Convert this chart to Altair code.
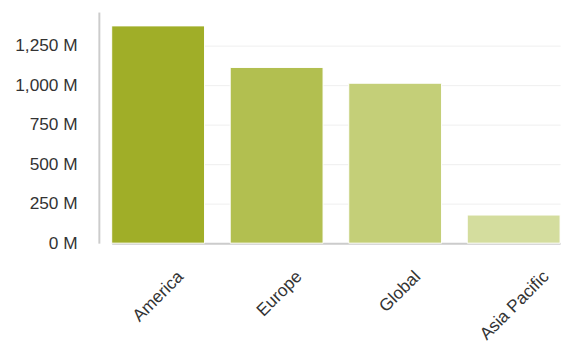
import altair as alt
import pandas as pd

regions = ["America", "Europe", "Global", "Asia Pacific"]
values = [1375, 1112, 1012, 178]
colors = ["#a0ae28", "#b2bf50", "#c4cf78", "#d4dd9e"]
y_ticks = [0, 250, 500, 750, 1000, 1250]

df = pd.DataFrame({"region": regions, "value": values, "color": colors})

FONT = "Liberation Sans"

chart = alt.Chart(df).mark_bar(stroke="white", strokeWidth=1).encode(
    x=alt.X(
        "region:N",
        sort=regions,
        title=None,
        scale=alt.Scale(range=[13, 467], paddingInner=0.2167, paddingOuter=0, round=False),
        axis=alt.Axis(
            labelAngle=315,
            labelAlign="right",
            labelBaseline="middle",
            labelFontSize=17.5,
            labelFont=FONT,
            labelColor="#333333",
            labelPadding=31,
            labelOffset=alt.condition("datum.value == 'Asia Pacific'", alt.value(33), alt.value(23)),
            ticks=False,
            tickSize=0,
            domainColor="#cccccc",
            domainWidth=2,
            grid=False,
        ),
    ),
    y=alt.Y(
        "value:Q",
        title=None,
        scale=alt.Scale(domain=[0, 1462.5], nice=False),
        axis=alt.Axis(
            values=y_ticks,
            labelExpr="format(datum.value, ',') + ' M'",
            labelFontSize=17.5,
            labelFont=FONT,
            labelColor="#333333",
            labelPadding=22,
            ticks=False,
            tickSize=0,
            domainColor="#cccccc",
            domainWidth=2,
            gridColor="#efefef",
            gridWidth=1,
        ),
    ),
    color=alt.Color("color:N", scale=None, legend=None),
).properties(
    width=474,
    height=234,
    autosize=alt.AutoSizeParams(type="none"),
    padding={"left": 92, "top": 2, "right": 0, "bottom": 100},
).configure_view(stroke=None)

chart.save("out.html", embed_options={"renderer": "svg", "actions": False})
